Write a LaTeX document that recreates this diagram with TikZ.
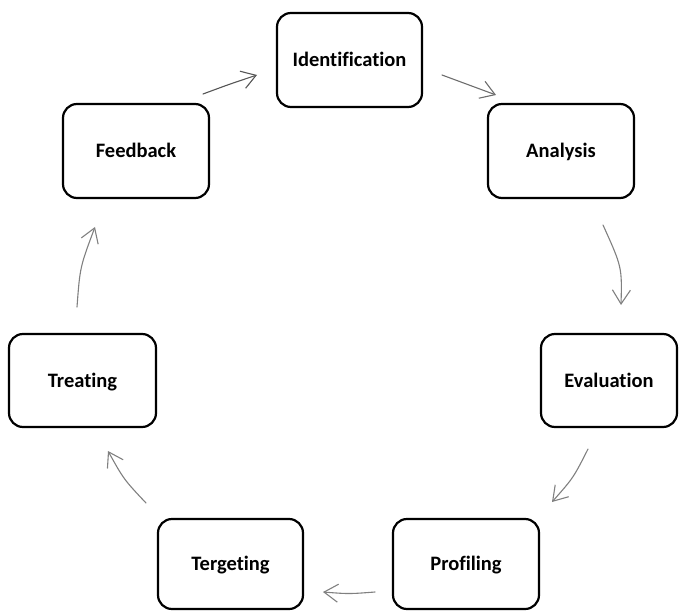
\documentclass[tikz,border=0pt]{standalone}
\usepackage{fontspec}
\setmainfont{Carlito}[Ligatures=NoCommon]
\usetikzlibrary{arrows.meta}
\definecolor{arrgray}{HTML}{808080}
\definecolor{arrdark}{HTML}{555555}
\tikzset{
  stage/.style={draw=black, line width=2.2pt, rounded corners=14pt, inner sep=0pt,
    font=\bfseries\fontsize{20.5}{24}\selectfont, text height=13pt, text depth=0pt},
  flow/.style={draw=arrgray, line width=1.1pt, line cap=round,
    -{Straight Barb[length=14pt,width=18pt,line width=1.1pt]}},
}
\begin{document}
\begin{tikzpicture}[x=1pt,y=-1pt]
\useasboundingbox (0,0) rectangle (679,612);
\node[stage, minimum width=145pt, minimum height=94pt] (id) at (349.5,60) {Identification};
\node[stage, minimum width=146pt, minimum height=94pt] (an) at (561,151) {Analysis};
\node[stage, minimum width=136pt, minimum height=93pt] (ev) at (609,380.5) {Evaluation};
\node[stage, minimum width=146pt, minimum height=90pt] (pr) at (466,564) {Profiling};
\node[stage, minimum width=145pt, minimum height=90pt] (tg) at (230.5,564) {Tergeting};
\node[stage, minimum width=147pt, minimum height=93pt] (tr) at (82.5,380.5) {Treating};
\node[stage, minimum width=146pt, minimum height=94pt] (fb) at (136,151) {Feedback};

\draw[flow, draw=arrdark] ([shift={(67,-57)}]fb.center) .. controls (230,84) .. ([shift={(-92.5,15)}]id.center);
\draw[flow, draw=arrgray!85!black] ([shift={(92.5,15)}]id.center) -- ([shift={(-65,-56)}]an.center);
\draw[flow] ([shift={(42,74)}]an.center) .. controls (622,267) .. ([shift={(12,-75.5)}]ev.center);
\draw[flow] ([shift={(-21,68.5)}]ev.center) .. controls (573.4,477.8) .. ([shift={(86,-62)}]pr.center);
\draw[flow] ([shift={(-91,28)}]pr.center) .. controls (349,594) .. ([shift={(92.5,28)}]tg.center);
\draw[flow] ([shift={(-84.5,-61)}]tg.center) .. controls (123.8,479.4) .. ([shift={(25.5,70.5)}]tr.center);
\draw[flow] ([shift={(-5.5,-73.5)}]tr.center) .. controls (80,267) .. ([shift={(-41,76)}]fb.center);
\end{tikzpicture}
\end{document}
